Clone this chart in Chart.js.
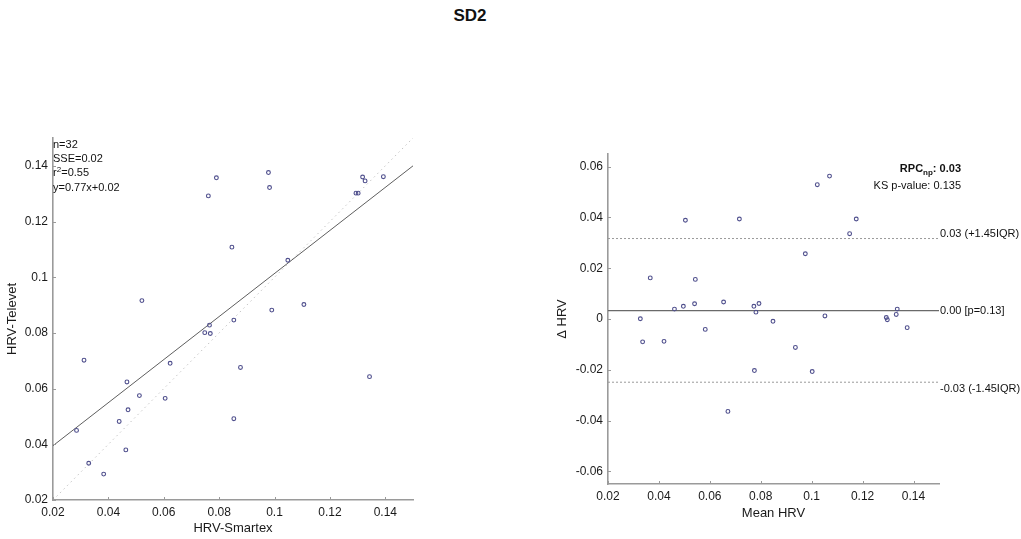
<!DOCTYPE html>
<html>
<head>
<meta charset="utf-8">
<title>SD2</title>
<script src="https://cdn.jsdelivr.net/npm/chart.js@4.4.1/dist/chart.umd.min.js"></script>
<style>
  html, body { margin: 0; padding: 0; background: #fff; }
  body { width: 1021px; height: 539px; position: relative; overflow: hidden; font-family: "Liberation Sans", Arial, sans-serif; }
  #title { position: absolute; left: 420px; top: 5px; width: 100px; line-height: 21px; text-align: center; font-weight: bold; font-size: 17px; color: #111; }
  .panel { position: absolute; top: 0; height: 539px; }
  #leftPanel { left: 0; width: 520px; }
  #rightPanel { left: 520px; width: 501px; }
</style>
</head>
<body>
<div id="title">SD2</div>
<div class="panel" id="leftPanel"><canvas id="corrChart"></canvas></div>
<div class="panel" id="rightPanel"><canvas id="baChart"></canvas></div>
<script>
'use strict';

// ---- correlation plot (left) ----
const smartex = [0.0761, 0.0790, 0.0978, 0.0982, 0.0846, 0.1048, 0.1294, 0.1302, 0.1318, 0.1327, 0.1393,
                 0.0521, 0.1106, 0.0990, 0.0853, 0.0765, 0.0748, 0.0768, 0.0312, 0.0623, 0.0877, 0.0467,
                 0.1343, 0.0512, 0.0605, 0.0471, 0.0439, 0.0853, 0.0285, 0.0463, 0.0329, 0.0383];
const televet = [0.1292, 0.1357, 0.1376, 0.1322, 0.1108, 0.1061, 0.1302, 0.1302, 0.1360, 0.1346, 0.1361,
                 0.0916, 0.0902, 0.0882, 0.0846, 0.0828, 0.0801, 0.0798, 0.0702, 0.0691, 0.0676, 0.0624,
                 0.0643, 0.0575, 0.0565, 0.0524, 0.0482, 0.0492, 0.0450, 0.0380, 0.0332, 0.0293];
const fitLineX = [0.02, 0.15];
const fitLineY = [0.0395, 0.14];
const identityX = [0.02, 0.15];
const identityY = [0.02, 0.15];
const corrTicks = [0.02, 0.04, 0.06, 0.08, 0.10, 0.12, 0.14];
const corrTickLabels = ['0.02', '0.04', '0.06', '0.08', '0.1', '0.12', '0.14'];
const corrStats = ['n=32', 'SSE=0.02', 'r2=0.55', 'y=0.77x+0.02'];

// ---- Bland-Altman plot (right) ----
const meanHrv = [0.0327, 0.0366, 0.0461, 0.0496, 0.0504, 0.0540, 0.0543, 0.0582, 0.0654, 0.0716, 0.0773,
                 0.0781, 0.0793, 0.0848, 0.0975, 0.1022, 0.1052, 0.1070, 0.1149, 0.1175, 0.1293, 0.1297,
                 0.1332, 0.1336, 0.1375, 0.0336, 0.0420, 0.0671, 0.0775, 0.0936, 0.1002];
const deltaHrv = [0.0001, 0.0162, 0.0039, 0.0050, 0.0389, 0.0060, 0.0156, -0.0041, 0.0067, 0.0394, 0.0050,
                  0.0027, 0.0061, -0.0009, 0.0257, 0.0529, 0.0012, 0.0563, 0.0336, 0.0394, 0.0006, -0.0003,
                  0.0018, 0.0039, -0.0034, -0.0090, -0.0088, -0.0364, -0.0203, -0.0112, -0.0207];
const baLineX = [0.02, 0.15];
const meanDiff = 0.0033;
const upperLoA = 0.0317;
const lowerLoA = -0.0249;
const baXTicks = [0.02, 0.04, 0.06, 0.08, 0.10, 0.12, 0.14];
const baXTickLabels = ['0.02', '0.04', '0.06', '0.08', '0.1', '0.12', '0.14'];
const baYTicks = [-0.06, -0.04, -0.02, 0, 0.02, 0.04, 0.06];
const baYTickLabels = ['-0.06', '-0.04', '-0.02', '0', '0.02', '0.04', '0.06'];
const baLineLabels = ['0.03 (+1.45IQR)', '0.00 [p=0.13]', '-0.03 (-1.45IQR)'];

const FONT = '"Liberation Sans", Arial, sans-serif';
const AXIS_GREY = '#9a9a9a';
const MARKER = '#4e4e8c';

const zip = (xs, ys) => xs.map((x, i) => ({ x, y: ys[i] }));

function fixedTicks(values) {
  return scale => { scale.ticks = values.map(v => ({ value: v })); };
}

function axis(opts) {
  return {
    type: 'linear',
    min: opts.min, max: opts.max,
    afterBuildTicks: fixedTicks(opts.ticks),
    afterFit: s => { if (opts.width) s.width = opts.width; if (opts.height) s.height = opts.height; },
    grid: { drawOnChartArea: false, drawTicks: false },
    border: { color: AXIS_GREY, width: 1.6 },
    ticks: {
      padding: 5, color: '#1a1a1a', font: { family: FONT, size: 12 },
      callback: (v, i) => opts.labels[i]
    },
    title: {
      display: true, text: opts.title, color: '#1a1a1a',
      font: { family: FONT, size: 13 }, padding: opts.titlePad
    }
  };
}

// Matlab style: short tick marks pointing into the plot
const inwardTicks = {
  id: 'inwardTicks',
  afterDatasetsDraw(chart) {
    const { ctx, chartArea: a, scales } = chart;
    ctx.save();
    ctx.strokeStyle = AXIS_GREY;
    ctx.lineWidth = 1;
    scales.x.ticks.forEach(t => {
      const px = Math.round(scales.x.getPixelForValue(t.value)) + 0.5;
      ctx.beginPath(); ctx.moveTo(px, a.bottom); ctx.lineTo(px, a.bottom - 3); ctx.stroke();
    });
    scales.y.ticks.forEach(t => {
      const py = Math.round(scales.y.getPixelForValue(t.value)) + 0.5;
      ctx.beginPath(); ctx.moveTo(a.left, py); ctx.lineTo(a.left + 3, py); ctx.stroke();
    });
    ctx.restore();
  }
};

const corrNotes = {
  id: 'corrNotes',
  afterDraw(chart) {
    const { ctx, chartArea: a } = chart;
    ctx.save();
    ctx.fillStyle = '#111';
    ctx.font = '11px ' + FONT;
    ctx.textBaseline = 'middle';
    corrStats.forEach((line, i) => {
      const y = a.top + 7 + i * 14.2;
      if (line.startsWith('r2')) {
        ctx.fillText('r', a.left, y);
        const w = ctx.measureText('r').width;
        ctx.font = '8px ' + FONT;
        ctx.fillText('2', a.left + w, y - 4);
        ctx.font = '11px ' + FONT;
        ctx.fillText(line.slice(2), a.left + w + ctx.measureText('2').width * 0.75, y);
      } else {
        ctx.fillText(line, a.left, y);
      }
    });
    ctx.restore();
  }
};

const baNotes = {
  id: 'baNotes',
  afterDraw(chart) {
    const { ctx, chartArea: a, scales } = chart;
    ctx.save();
    ctx.fillStyle = '#111';
    ctx.textBaseline = 'middle';
    ctx.font = '11px ' + FONT;
    const levels = [upperLoA, meanDiff, lowerLoA];
    const shifts = [-5, 0, 7];
    levels.forEach((v, i) => {
      ctx.fillText(baLineLabels[i], a.right + 1, scales.y.getPixelForValue(v) + shifts[i]);
    });

    // RPC_np line, right aligned
    const right = a.right + 22;
    const yRpc = a.top + 15;
    ctx.font = 'bold 11px ' + FONT;
    const tail = ': 0.03';
    const wTail = ctx.measureText(tail).width;
    ctx.font = 'bold 8px ' + FONT;
    const wSub = ctx.measureText('np').width;
    ctx.font = 'bold 11px ' + FONT;
    const wRpc = ctx.measureText('RPC').width;
    let x = right - wTail - wSub - wRpc;
    ctx.fillText('RPC', x, yRpc);
    ctx.font = 'bold 8px ' + FONT;
    ctx.fillText('np', x + wRpc, yRpc + 4);
    ctx.font = 'bold 11px ' + FONT;
    ctx.fillText(tail, x + wRpc + wSub, yRpc);

    ctx.font = '11px ' + FONT;
    ctx.textAlign = 'right';
    ctx.fillText('KS p-value: 0.135', right, yRpc + 17);
    ctx.restore();
  }
};

const pointStyle = {
  type: 'scatter', pointRadius: 1.9, pointHoverRadius: 1.9, pointBorderWidth: 1.1,
  borderColor: MARKER, backgroundColor: 'rgba(0,0,0,0)', order: 0
};

const commonOpts = {
  responsive: true, maintainAspectRatio: false, animation: false,
  plugins: { legend: { display: false }, tooltip: { enabled: false } }
};

new Chart(document.getElementById('corrChart'), {
  type: 'scatter',
  data: {
    datasets: [
      Object.assign({ label: 'Data', data: zip(smartex, televet) }, pointStyle),
      { type: 'line', label: 'Fit', data: zip(fitLineX, fitLineY), borderColor: '#5e5e5e', borderWidth: 1, pointRadius: 0, order: 1 },
      { type: 'line', label: 'Identity', data: zip(identityX, identityY), borderColor: '#c4c4c4', borderWidth: 1, borderDash: [1.5, 3.5], pointRadius: 0, order: 2 }
    ]
  },
  options: Object.assign({}, commonOpts, {
    layout: { padding: { left: 0, top: 138, right: 107, bottom: 0 } },
    scales: {
      x: axis({ min: 0.02, max: 0.15, ticks: corrTicks, labels: corrTickLabels, title: 'HRV-Smartex', height: 39, titlePad: { top: 0, bottom: 3 } }),
      y: axis({ min: 0.02, max: 0.15, ticks: corrTicks, labels: corrTickLabels, title: 'HRV-Televet', width: 53, titlePad: { top: 5, bottom: 0 } })
    }
  }),
  plugins: [inwardTicks, corrNotes]
});

new Chart(document.getElementById('baChart'), {
  type: 'scatter',
  data: {
    datasets: [
      Object.assign({ label: 'Difference', data: zip(meanHrv, deltaHrv) }, pointStyle),
      { type: 'line', label: 'Mean', data: zip(baLineX, baLineX.map(() => meanDiff)), borderColor: '#6a6a6a', borderWidth: 1.2, pointRadius: 0, order: 1 },
      { type: 'line', label: 'Upper', data: zip(baLineX, baLineX.map(() => upperLoA)), borderColor: '#9a9a9a', borderWidth: 1, borderDash: [2, 2], pointRadius: 0, order: 1 },
      { type: 'line', label: 'Lower', data: zip(baLineX, baLineX.map(() => lowerLoA)), borderColor: '#9a9a9a', borderWidth: 1, borderDash: [2, 2], pointRadius: 0, order: 1 }
    ]
  },
  options: Object.assign({}, commonOpts, {
    layout: { padding: { left: 35, top: 154, right: 82, bottom: 15 } },
    scales: {
      x: axis({ min: 0.02, max: 0.15, ticks: baXTicks, labels: baXTickLabels, title: 'Mean HRV', height: 40, titlePad: { top: 0, bottom: 3 } }),
      y: axis({ min: -0.065, max: 0.065, ticks: baYTicks, labels: baYTickLabels, title: '\u0394 HRV', width: 53, titlePad: { top: 0, bottom: 0 } })
    }
  }),
  plugins: [inwardTicks, baNotes]
});
</script>
</body>
</html>
